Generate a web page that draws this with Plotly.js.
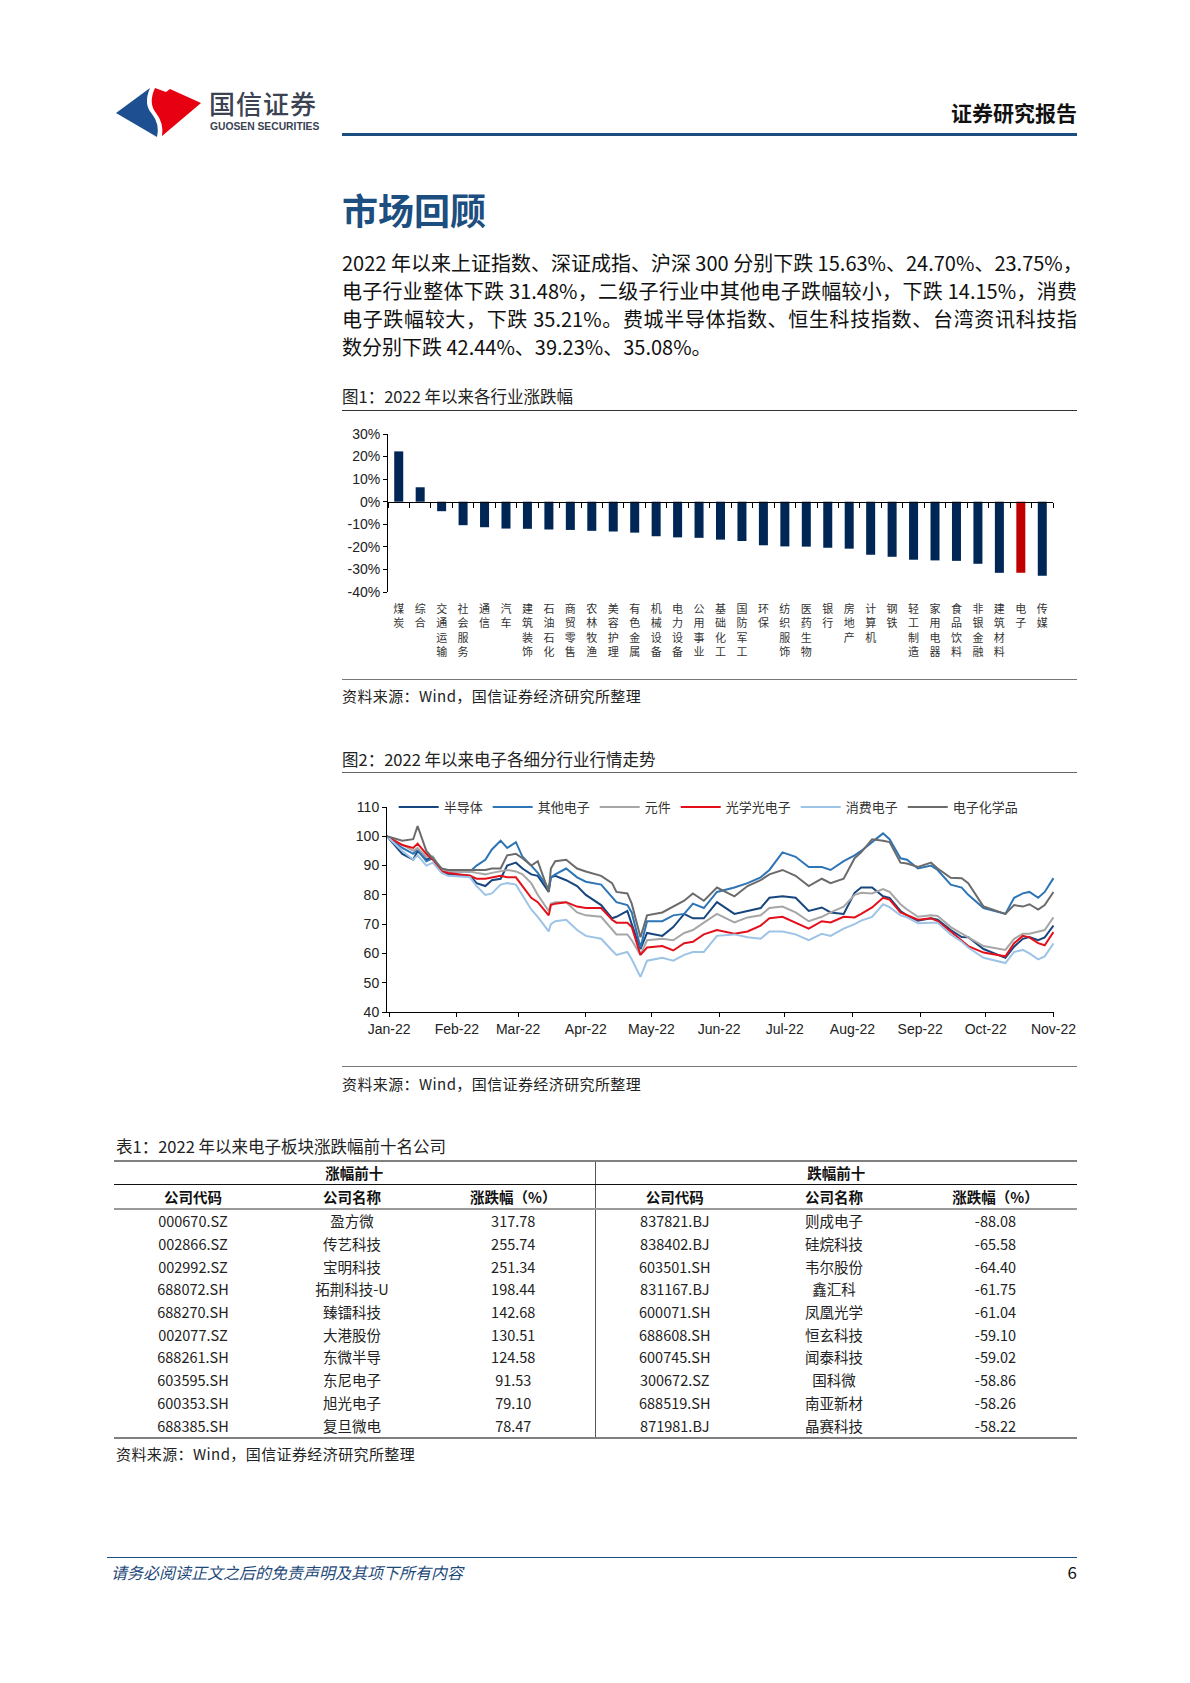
<!DOCTYPE html>
<html><head><meta charset="utf-8">
<script src="https://cdn.plot.ly/plotly-3.0.1.min.js"></script>
<style>
body{margin:0;width:1190px;height:1683px;background:#fff;position:relative;font-family:"Noto Sans CJK SC",sans-serif;overflow:hidden;color:#111}
.abs{position:absolute;white-space:nowrap}
.para{position:absolute;left:342px;width:735px;font-size:20px;line-height:28px;text-align:justify;text-align-last:justify;white-space:nowrap;color:#111}
.hline{position:absolute;height:0}
.figt{position:absolute;left:342px;font-size:16.5px;line-height:22px;color:#222}
.src{position:absolute;font-size:15px;line-height:20px;color:#222;letter-spacing:0.4px}
#tbl{position:absolute;left:114px;top:1160px;width:963px;border-collapse:collapse;table-layout:fixed;font-size:14.5px;color:#222}
#tbl td,#tbl th{padding:0;text-align:center;height:22.7px;line-height:20px;white-space:nowrap}
#tbl th{font-weight:700;color:#111}
#tbl tr.h1 th{border-top:2px solid #808080;border-bottom:1px solid #111;height:22px}
#tbl tr.h2 th{border-bottom:2px solid #9a9a9a;height:23px}
#tbl tr.last td{border-bottom:2px solid #808080}
#tbl .div{border-left:1px solid #555}
</style></head><body>

<svg class="abs" style="left:0;top:0" width="260" height="160" viewBox="0 0 260 160">
  <path d="M116,113 L150,88 Q143,104 152,114 Q160,124 157,137 Z" fill="#1d4f91"/>
  <path d="M155,88 L166,92 L170,89 L201,103 L162,136 Q164,123 156,113 Q148,103 155,88 Z" fill="#e60012"/>
</svg>
<div class="abs" style="left:209px;top:88px;font-size:26px;line-height:30px;font-weight:500;color:#3b4252;letter-spacing:1px">国信证券</div>
<div class="abs" style="left:210px;top:120px;font-size:10.3px;line-height:14px;font-weight:700;color:#3b4252;font-family:'Liberation Sans Narrow','Liberation Sans',sans-serif">GUOSEN SECURITIES</div>
<div class="abs" style="right:113px;top:99px;font-size:21px;line-height:26px;font-weight:700;color:#111">证券研究报告</div>
<div class="hline" style="left:342px;top:133px;width:735px;border-top:3px solid #1c4e80"></div>

<div class="abs" style="left:342px;top:188px;font-size:36px;line-height:42px;font-weight:700;color:#1c4e80">市场回顾</div>

<div class="para" style="top:249px">2022 年以来上证指数、深证成指、沪深 300 分别下跌 15.63%、24.70%、23.75%，</div>
<div class="para" style="top:277px">电子行业整体下跌 31.48%，二级子行业中其他电子跌幅较小，下跌 14.15%，消费</div>
<div class="para" style="top:305px">电子跌幅较大，下跌 35.21%。费城半导体指数、恒生科技指数、台湾资讯科技指</div>
<div class="para" style="top:333px;text-align:left;text-align-last:left">数分别下跌 42.44%、39.23%、35.08%。</div>

<div class="figt" style="top:385px">图1：2022 年以来各行业涨跌幅</div>
<div class="hline" style="left:342px;top:410px;width:735px;border-top:1.5px solid #333"></div>
<div id="bar" class="abs" style="left:300px;top:415px;width:780px;height:260px"></div>
<div class="hline" style="left:342px;top:679px;width:735px;border-top:1px solid #777"></div>
<div class="src" style="left:342px;top:686px">资料来源：Wind，国信证券经济研究所整理</div>

<div class="figt" style="top:748px">图2：2022 年以来电子各细分行业行情走势</div>
<div class="hline" style="left:342px;top:772px;width:735px;border-top:1.5px solid #666"></div>
<div id="line" class="abs" style="left:300px;top:780px;width:780px;height:280px"></div>
<div class="hline" style="left:342px;top:1066px;width:735px;border-top:1px solid #777"></div>
<div class="src" style="left:342px;top:1074px">资料来源：Wind，国信证券经济研究所整理</div>

<div class="abs" style="left:116px;top:1135px;font-size:16.5px;line-height:22px;color:#222">表1：2022 年以来电子板块涨跌幅前十名公司</div>
<table id="tbl">
<colgroup><col style="width:158px"><col style="width:160px"><col style="width:163px"><col style="width:159px"><col style="width:160px"><col style="width:163px"></colgroup>
<tbody id="tbody"></tbody>
</table>
<div class="src" style="left:116px;top:1444px">资料来源：Wind，国信证券经济研究所整理</div>

<div class="hline" style="left:107px;top:1557px;width:970px;border-top:1.5px solid #1c4e80"></div>
<div class="abs" style="left:111px;top:1561px;font-size:16px;line-height:22px;font-style:italic;color:#1e4a7a">请务必阅读正文之后的免责声明及其项下所有内容</div>
<div class="abs" style="right:113px;top:1561px;font-size:17px;line-height:22px;color:#111">6</div>

<script>
// ---------- Figure 1 data ----------
const industries = ['煤炭','综合','交通运输','社会服务','通信','汽车','建筑装饰','石油石化','商贸零售','农林牧渔','美容护理','有色金属','机械设备','电力设备','公用事业','基础化工','国防军工','环保','纺织服饰','医药生物','银行','房地产','计算机','钢铁','轻工制造','家用电器','食品饮料','非银金融','建筑材料','电子','传媒'];
const changes = [22.3,6.4,-4.2,-10.4,-11.3,-11.9,-12.0,-12.3,-12.5,-12.9,-13.2,-13.7,-15.3,-15.8,-16.0,-16.8,-17.4,-19.3,-19.8,-19.9,-20.4,-20.8,-23.5,-24.4,-25.7,-26.0,-26.2,-27.5,-31.5,-31.48,-32.8];
const highlight = '电子';
const pctTickVals = [30,20,10,0,-10,-20,-30,-40];
const pctTickText = ['30%','20%','10%','0%','-10%','-20%','-30%','-40%'];

// ---------- Figure 2 data ----------
const dates = ['2021-12-31','2022-01-07','2022-01-12','2022-01-14','2022-01-18','2022-01-21','2022-01-25','2022-01-28',
'2022-02-07','2022-02-10','2022-02-14','2022-02-17','2022-02-21','2022-02-24','2022-02-28',
'2022-03-03','2022-03-07','2022-03-10','2022-03-15','2022-03-16','2022-03-18','2022-03-23','2022-03-28',
'2022-04-01','2022-04-08','2022-04-13','2022-04-15','2022-04-20','2022-04-22','2022-04-26','2022-04-29',
'2022-05-06','2022-05-11','2022-05-16','2022-05-20','2022-05-25','2022-05-31',
'2022-06-08','2022-06-14','2022-06-20','2022-06-24','2022-06-30',
'2022-07-06','2022-07-12','2022-07-18','2022-07-22','2022-07-28',
'2022-08-02','2022-08-05','2022-08-10','2022-08-15','2022-08-18','2022-08-23','2022-08-26','2022-08-31',
'2022-09-06','2022-09-09','2022-09-15','2022-09-20','2022-09-23','2022-09-30',
'2022-10-10','2022-10-14','2022-10-18','2022-10-21','2022-10-25','2022-10-28','2022-11-01'];
const semi = [100,94,92,95,92,93,88,87,
 86.5,84,83,85,85.5,90,91,
 89,87,86.5,81,86,86.5,85,83,
 80,76.5,72,72.5,74.5,70,61.5,67,
 66,69,73.5,72,72,77.5,
 73.5,74.5,75.5,79,79.5,
 79,74.5,75.7,74,73.5,
 80.7,82.5,82.5,79.5,79,74.5,73,71.2,
 72,71.5,68,65.6,65.5,61.5,
 58.5,62.3,65,65.6,64.5,65.5,69.5];
const otherElec = [100,96,94,95.5,91.5,92.5,88.5,88,
 88,90,92,95.5,98.5,96,98,
 93,90,87.5,82,86,87,89,86,
 84.5,83.5,79,77.5,76.5,74,62,71,
 71,73,73.5,77,75.5,81,
 82.5,84,86,88.5,94.5,
 93,89.5,89.5,88.5,91.5,
 93.5,95,98,101,99,92.5,92,89,
 90,88.5,83.5,82.5,80,75.5,
 73.5,79,80.5,81,79,81,85.7];
const components = [100,97,95,96,93,93,88.5,88,
 88,87.5,87,87.5,88,88.5,88,
 87,84,80,74.5,77,77.5,77.5,74,
 73,72.5,68,66.5,66.5,64.5,59.5,64.5,
 65,64.5,67,68,70.5,73.5,
 70.6,72.3,73,75.5,76,
 74,71,72.5,74,76,
 80,80.7,80.5,82,81,76.8,75,72.5,
 73,72.8,69,66.7,65.5,62.5,
 61.2,65,66.7,66.7,67.3,68,72.3];
const opto = [100,97,96,97.5,94,92,88,87.5,
 86.5,85.5,85.5,86,86.5,86,86,
 83,79,77.5,73,76.5,77,77.5,76,
 75.5,75.5,71.5,70.5,70.5,69,59.5,62,
 62.5,61,63.5,64,66.5,68,
 66.7,67.5,69.5,72,72.5,
 70.5,68.5,71,70.6,72.5,
 72.3,73.5,75.7,79,78.4,74,73,71.5,
 72,71,67.5,64.5,62.5,60.3,
 59,63.5,66,65.5,63.5,62.8,67.3];
const consumer = [100,95,92,93.5,90,91,87.5,86.5,
 86,83,80,80.5,83.5,84,83.5,
 80,75,72.5,67.5,70,71,71.5,68,
 66,65,61,59.5,60.5,58,52,57.5,
 58.5,57.5,59.5,60.5,60.5,66,
 66.5,65.5,65,67.5,67.5,
 66.5,64.5,66.7,66,68.5,
 70,71.2,72.5,76.8,75.8,73,72.3,70.3,
 70.5,70.5,66.5,64,62,58.5,
 56.7,60.5,61.2,60,58,59,63.4];
const chem = [100,98.5,99,103.5,95,92.5,89,88.5,
 88.5,88.5,88.5,89,89,93.5,94,
 92.5,90,91.5,81,89,91.5,92,89,
 88,86.5,84,81,80.5,77,65.5,73,
 74,76,78,80.5,78,82.5,
 79.5,83,85,87,88.5,
 86.5,83,85.5,84,85.5,
 92.5,94.5,99,98.5,98,91,90.7,89.5,
 91,89,85.8,85.7,84,76,
 73.5,76.5,76,76.8,75,76.5,81];
const seriesNames = ['半导体','其他电子','元件','光学光电子','消费电子','电子化学品'];
const seriesData = [semi, otherElec, components, opto, consumer, chem];
const seriesColors = ['#17467e','#2e75b6','#a6a6a6','#e3101b','#9dc3e6','#6b6b6b'];

// ---------- Table 1 data ----------
const topCodes = ['000670.SZ','002866.SZ','002992.SZ','688072.SH','688270.SH','002077.SZ','688261.SH','603595.SH','600353.SH','688385.SH'];
const topNames = ['盈方微','传艺科技','宝明科技','拓荆科技-U','臻镭科技','大港股份','东微半导','东尼电子','旭光电子','复旦微电'];
const topPct = ['317.78','255.74','251.34','198.44','142.68','130.51','124.58','91.53','79.10','78.47'];
const botCodes = ['837821.BJ','838402.BJ','603501.SH','831167.BJ','600071.SH','688608.SH','600745.SH','300672.SZ','688519.SH','871981.BJ'];
const botNames = ['则成电子','硅烷科技','韦尔股份','鑫汇科','凤凰光学','恒玄科技','闻泰科技','国科微','南亚新材','晶赛科技'];
const botPct = ['-88.08','-65.58','-64.40','-61.75','-61.04','-59.10','-59.02','-58.86','-58.26','-58.22'];

// ---------- Figure 1 ----------
const tickFont = {family:'Liberation Sans, Arial, sans-serif', size:14, color:'#222'};
const barColors = industries.map(n => n === highlight ? '#c00000' : '#002656');
Plotly.newPlot('bar', [
  {type:'bar', x:industries, y:changes, marker:{color:barColors}, hoverinfo:'skip'},
  {type:'scatter', mode:'markers', x:industries, y:changes, xaxis:'x2', marker:{opacity:0}, hoverinfo:'skip'}
], {
  width:780, height:260, margin:{l:88,r:27,t:19,b:83},
  paper_bgcolor:'rgba(0,0,0,0)', plot_bgcolor:'rgba(0,0,0,0)',
  showlegend:false, bargap:0.58,
  xaxis:{type:'category', range:[-0.5,30.5], showline:false, ticks:'', showgrid:false, zeroline:false,
    tickangle:0, tickmode:'array', tickvals:industries, ticktext:industries.map(s=>s.split('').join('<br>')),
    ticklabelstandoff:9, tickfont:{family:'Noto Sans CJK SC', size:11, color:'#333'}},
  xaxis2:{type:'category', overlaying:'x', anchor:'free', position:40/70, range:[-0.5,30.5],
    showline:true, linecolor:'#000', linewidth:1, ticks:'outside', tickson:'boundaries', ticklen:5,
    tickcolor:'#000', showticklabels:false, showgrid:false, zeroline:false},
  yaxis:{range:[-40,30], tickmode:'array', tickvals:pctTickVals, ticktext:pctTickText, showline:true,
    linecolor:'#000', linewidth:1, ticks:'outside', ticklen:4, tickcolor:'#000', showgrid:false,
    zeroline:false, tickfont:tickFont}
}, {staticPlot:true});

// ---------- Figure 2 ----------
const lineTraces = seriesNames.map((n,i)=>({type:'scatter', mode:'lines', name:n, x:dates, y:seriesData[i],
  line:{color:seriesColors[i], width:2}, hoverinfo:'skip'}));
Plotly.newPlot('line', lineTraces, {
  width:780, height:280, margin:{l:87,r:26,t:22,b:48},
  paper_bgcolor:'rgba(0,0,0,0)', plot_bgcolor:'rgba(0,0,0,0)',
  xaxis:{type:'date', range:['2021-12-31','2022-11-01 06:00'], tick0:'2022-01-01', dtick:'M1', tickformat:'%b-%y',
    ticks:'outside', ticklen:4, showline:true, linecolor:'#000', tickcolor:'#000', showgrid:false, zeroline:false, tickfont:tickFont},
  yaxis:{range:[40,110], tick0:40, dtick:10, ticks:'outside', ticklen:4, showline:true, linecolor:'#000',
    tickcolor:'#000', showgrid:false, zeroline:false, tickfont:tickFont},
  legend:{orientation:'h', x:0.01, xanchor:'left', y:1, yanchor:'middle', bgcolor:'rgba(0,0,0,0)',
    font:{family:'Noto Sans CJK SC', size:13, color:'#333'}, itemwidth:40}
}, {staticPlot:true});

// ---------- Table ----------
const tb = document.getElementById('tbody');
let html = '<tr class="h1"><th colspan="3">涨幅前十</th><th colspan="3" class="div">跌幅前十</th></tr>';
html += '<tr class="h2"><th>公司代码</th><th>公司名称</th><th>涨跌幅（%）</th><th class="div">公司代码</th><th>公司名称</th><th>涨跌幅（%）</th></tr>';
for (let i=0;i<topCodes.length;i++){
  html += '<tr'+(i===topCodes.length-1?' class="last"':'')+'><td>'+topCodes[i]+'</td><td>'+topNames[i]+'</td><td>'+topPct[i]+
    '</td><td class="div">'+botCodes[i]+'</td><td>'+botNames[i]+'</td><td>'+botPct[i]+'</td></tr>';
}
tb.innerHTML = html;
</script>
</body></html>
